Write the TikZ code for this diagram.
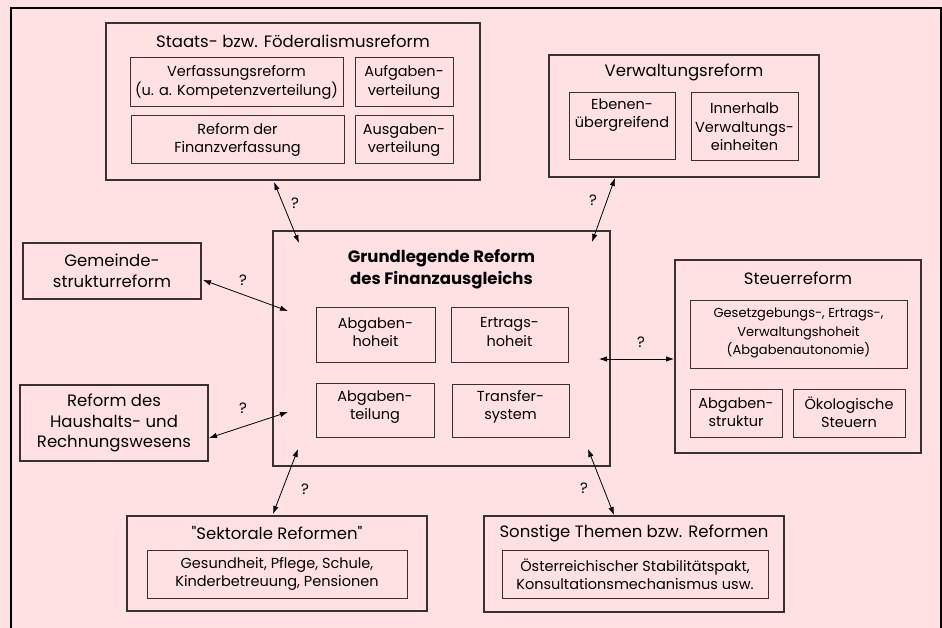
\documentclass[tikz,border=0pt]{standalone}
\usepackage{fontspec}
\setmainfont{Poppins}[Ligatures=TeXOff]
\usetikzlibrary{arrows.meta}
\definecolor{bg}{RGB}{255,225,228}
\definecolor{ln}{RGB}{55,50,50}
\begin{document}
\begin{tikzpicture}[x=1pt,y=-1pt,
  box/.style={draw=ln, line width=1.1pt, inner sep=0pt},
  ibox/.style={draw=ln, line width=1pt, inner sep=0pt},
  txt/.style={align=center, font=\fontsize{14.5}{18.5}\selectfont, inner sep=0pt},
  ttl/.style={align=center, font=\fontsize{16.5}{20.5}\selectfont, inner sep=0pt},
  btl/.style={align=center, font=\fontsize{16.5}{22}\selectfont\bfseries, inner sep=0pt},
  link/.style={{Latex[length=8pt,width=5.5pt]}-{Latex[length=8pt,width=5.5pt]}, line width=0.8pt, black},
  q/.style={font=\fontsize{15}{16}\selectfont, inner sep=0pt}]
\fill[bg] (0,0) rectangle (942,628);
\useasboundingbox (0,0) rectangle (942,628);
\draw[line width=1.3pt, black] (11,628) -- (11,8) -- (941,8) -- (941,628);

% Staats
\node[box, minimum width=374pt, minimum height=157pt] (staats) at (293,101.5) {};
\node[ttl] (staatsT) at (293,41) {Staats- bzw. Föderalismusreform};
\node[ibox, minimum width=213pt, minimum height=49pt] (verf) at (236.5,82.5) {};
\node[txt] (verfT) at (236.5,82.5) {Verfassungsreform\\(u. a. Kompetenzverteilung)};
\node[ibox, minimum width=98pt, minimum height=49pt] (aufg) at (404,82.5) {};
\node[txt] (aufgT) at (404,82.5) {Aufgaben-\\verteilung};
\node[ibox, minimum width=213pt, minimum height=48pt] (finv) at (237.5,140) {};
\node[txt] (finvT) at (237.5,140) {Reform der\\Finanzverfassung};
\node[ibox, minimum width=98pt, minimum height=48pt] (ausg) at (404,140) {};
\node[txt] (ausgT) at (404,140) {Ausgaben-\\verteilung};

% Verwaltung
\node[box, minimum width=270pt, minimum height=122pt] (verw) at (684,116) {};
\node[ttl] (verwT) at (684,72) {Verwaltungsreform};
\node[ibox, minimum width=106pt, minimum height=67pt] (eben) at (622,126.5) {};
\node[txt] (ebenT) at (622,115) {Ebenen-\\übergreifend};
\node[ibox, minimum width=107pt, minimum height=68pt] (innh) at (744.5,127) {};
\node[txt] (innhT) at (744.5,127) {Innerhalb\\Verwaltungs-\\einheiten};

% Gemeinde
\node[box, minimum width=178pt, minimum height=56pt] (gem) at (112,271) {};
\node[ttl] (gemT) at (112,271) {Gemeinde-\\strukturreform};

% Haushalt
\node[box, minimum width=188pt, minimum height=76pt] (hh) at (114,423) {};
\node[ttl] (hhT) at (114,423) {Reform des\\Haushalts- und\\Rechnungswesens};

% Central
\node[box, minimum width=337pt, minimum height=235pt] (fa) at (441.5,348.5) {};
\node[btl] (faT) at (441.5,269) {Grundlegende Reform\\des Finanzausgleichs};
\node[ibox, minimum width=119pt, minimum height=55pt] (ah) at (375.5,334.5) {};
\node[txt] (ahT) at (375.5,332) {Abgaben-\\hoheit};
\node[ibox, minimum width=117pt, minimum height=55pt] (eh) at (509.5,334.5) {};
\node[txt] (ehT) at (509.5,332) {Ertrags-\\hoheit};
\node[ibox, minimum width=118pt, minimum height=54pt] (at) at (375,410) {};
\node[txt] (atT) at (375,407) {Abgaben-\\teilung};
\node[ibox, minimum width=117pt, minimum height=53pt] (ts) at (510.5,410.5) {};
\node[txt] (tsT) at (510.5,407) {Transfer-\\system};

% Steuer
\node[box, minimum width=246pt, minimum height=193pt] (st) at (798,356.5) {};
\node[ttl] (stT) at (798,278) {Steuerreform};
\node[ibox, minimum width=217pt, minimum height=68pt] (gz) at (798.5,334) {};
\node[txt, font=\fontsize{13}{18.5}\selectfont] (gzT) at (798.5,333) {Gesetzgebungs-, Ertrags-,\\Verwaltungshoheit\\(Abgabenautonomie)};
\node[ibox, minimum width=92pt, minimum height=48pt] (as) at (736,413) {};
\node[txt] (asT) at (736,412) {Abgaben-\\struktur};
\node[ibox, minimum width=112pt, minimum height=48pt] (oe) at (849,413) {};
\node[txt] (oeT) at (849,412) {Ökologische\\Steuern};

% Sektorale
\node[box, minimum width=300pt, minimum height=95pt] (sek) at (277,563.5) {};
\node[ttl] (sekT) at (277,533) {"Sektorale Reformen"};
\node[ibox, minimum width=260pt, minimum height=48pt] (sekI) at (277,574) {};
\node[txt] (sekIT) at (277,574) {Gesundheit, Pflege, Schule,\\Kinderbetreuung, Pensionen};

% Sonstige
\node[box, minimum width=300pt, minimum height=96pt] (son) at (634,564) {};
\node[ttl] (sonT) at (634,533) {Sonstige Themen bzw. Reformen};
\node[ibox, minimum width=266pt, minimum height=48pt] (sonI) at (635,574) {};
\node[txt] (sonIT) at (635,574) {Österreichischer Stabilitätspakt,\\Konsultationsmechanismus usw.};

% connector end points
\coordinate (c1a) at (274,182); \coordinate (c1b) at (299,243);
\coordinate (c2a) at (615,178); \coordinate (c2b) at (592,242);
\coordinate (c3a) at (203,280); \coordinate (c3b) at (288,311);
\coordinate (c4a) at (209,438); \coordinate (c4b) at (288,412);
\coordinate (c5a) at (298,449); \coordinate (c5b) at (273,514);
\coordinate (c6a) at (588,449); \coordinate (c6b) at (614,515);
\coordinate (c7a) at (599,359); \coordinate (c7b) at (674,359);

\draw[link] (c1a) -- (c1b);
\draw[link] (c2a) -- (c2b);
\draw[link] (c3a) -- (c3b);
\draw[link] (c4a) -- (c4b);
\draw[link] (c5a) -- (c5b);
\draw[link] (c6a) -- (c6b);
\draw[link] (c7a) -- (c7b);

\node[q] (q1) at (295,203) {?};
\node[q] (q2) at (593,200) {?};
\node[q] (q3) at (243,280) {?};
\node[q] (q4) at (243,408) {?};
\node[q] (q5) at (305,489) {?};
\node[q] (q6) at (584,488) {?};
\node[q] (q7) at (641,342) {?};
\end{tikzpicture}
\end{document}
